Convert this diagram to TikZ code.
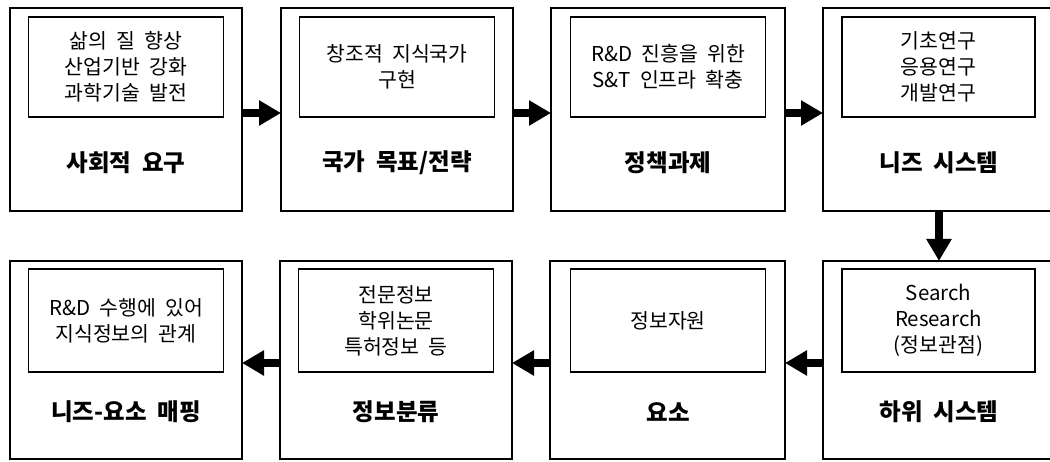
\documentclass[tikz,border=0pt]{standalone}
\usepackage{fontspec}
\setmainfont{Noto Sans CJK KR}[WordSpace=2,BoldFont={Noto Sans CJK KR Black}]
\usetikzlibrary{arrows.meta}
\begin{document}
\begin{tikzpicture}[x=1pt,y=-1pt,
  outerbox/.style={draw,line width=1.5pt,minimum width=232pt,inner sep=0pt,outer sep=0pt},
  innerbox/.style={draw,line width=1.5pt,minimum width=195pt,inner sep=0pt,outer sep=0pt},
  toptext/.style={align=center,font=\fontsize{20.5}{26}\selectfont},
  title/.style={font=\fontsize{23.5}{28}\selectfont\bfseries},
  arr/.style={line width=7.5pt,-{Triangle[length=22pt,width=24pt]}}]
\useasboundingbox[fill=white] (0,0) rectangle (1050,462);
% top row outer boxes
\node[outerbox,minimum height=203pt] (b1) at (126,109.5) {};
\node[outerbox,minimum height=203pt] (b2) at (397,109.5) {};
\node[outerbox,minimum height=203pt,minimum width=234pt] (b3) at (668,109.5) {};
\node[outerbox,minimum height=203pt] (b4) at (939,109.5) {};
% bottom row outer boxes
\node[outerbox,minimum height=198pt] (b5) at (126,360) {};
\node[outerbox,minimum height=198pt] (b6) at (396,360) {};
\node[outerbox,minimum height=198pt,minimum width=235pt] (b7) at (667.5,360) {};
\node[outerbox,minimum height=198pt] (b8) at (939,360) {};
% inner boxes top
\node[innerbox,minimum height=100pt] (i1) at (126,67) {};
\node[innerbox,minimum height=100pt] (i2) at (397,67) {};
\node[innerbox,minimum height=100pt] (i3) at (668,67) {};
\node[innerbox,minimum height=100pt,minimum width=193pt] (i4) at (938.5,67) {};
% inner boxes bottom
\node[innerbox,minimum height=103pt] (i5) at (126,320.5) {};
\node[innerbox,minimum height=103pt] (i6) at (396,320.5) {};
\node[innerbox,minimum height=103pt] (i7) at (668,320.5) {};
\node[innerbox,minimum height=103pt,minimum width=193pt] (i8) at (938.5,320.5) {};
% inner texts
\node[toptext] (t1) at (i1) {삶의 질 향상\\산업기반 강화\\과학기술 발전};
\node[toptext] (t2) at (i2) {창조적 지식국가\\구현};
\node[toptext] (t3) at (i3) {R\&D 진흥을 위한\\S\&T 인프라 확충};
\node[toptext] (t4) at (i4) {기초연구\\응용연구\\개발연구};
\node[toptext] (t5) at (i5) {R\&D 수행에 있어\\지식정보의 관계};
\node[toptext] (t6) at (i6) {전문정보\\학위논문\\특허정보 등};
\node[toptext] (t7) at (i7) {정보자원};
\node[toptext] (t8) at (i8) {Search\\Research\\(정보관점)};
% titles
\node[title] (l1) at (126,163) {사회적 요구};
\node[title] (l2) at (397,163) {국가 목표/전략};
\node[title] (l3) at (668,163) {정책과제};
\node[title] (l4) at (939,163) {니즈 시스템};
\node[title] (l5) at (126,412) {니즈-요소 매핑};
\node[title] (l6) at (396,412) {정보분류};
\node[title] (l7) at (668,412) {요소};
\node[title] (l8) at (939,412) {하위 시스템};
% arrows
\draw[arr] ([yshift=-3.5pt]b1.east) -- ([yshift=-3.5pt]b2.west);
\draw[arr] ([yshift=-3.5pt]b2.east) -- ([yshift=-3.5pt]b3.west);
\draw[arr] ([yshift=-3.5pt]b3.east) -- ([yshift=-3.5pt]b4.west);
\draw[arr] (b4.south) -- (b8.north);
\draw[arr] ([yshift=-3pt]b8.west) -- ([yshift=-3pt]b7.east);
\draw[arr] ([yshift=-3pt]b7.west) -- ([yshift=-3pt]b6.east);
\draw[arr] ([yshift=-3pt]b6.west) -- ([yshift=-3pt]b5.east);
\end{tikzpicture}
\end{document}
